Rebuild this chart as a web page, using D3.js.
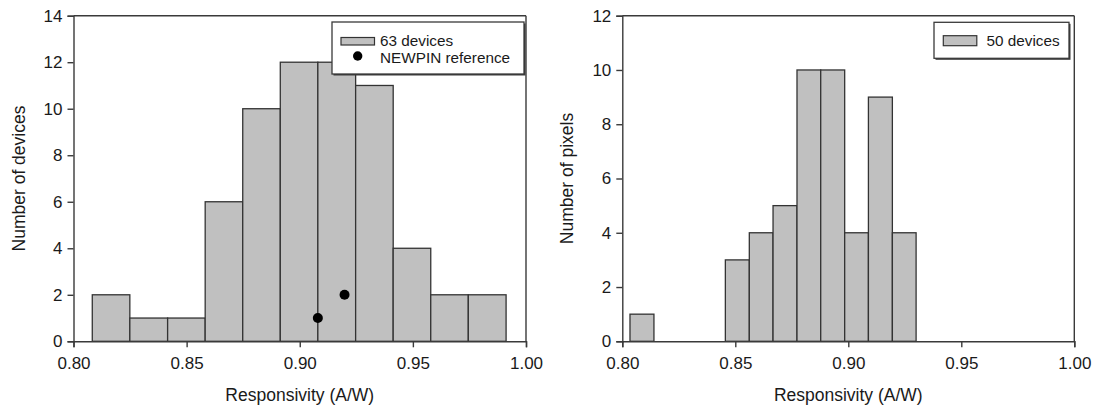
<!DOCTYPE html>
<html>
<head>
<meta charset="utf-8">
<script src="https://cdn.jsdelivr.net/npm/d3@7"></script>
<style>
  html, body { margin: 0; padding: 0; background: #fff; }
  svg { display: block; font-family: "Liberation Sans", Arial, sans-serif; }
</style>
</head>
<body>
<svg id="chart" width="1099" height="409"></svg>
<script>
// Left panel: responsivity histogram of 63 devices
const leftEdges  = [0.8083, 0.8249, 0.8416, 0.8582, 0.8748, 0.8914, 0.9080, 0.9247, 0.9413, 0.9579, 0.9745, 0.9912];
const leftCounts = [2, 1, 1, 6, 10, 12, 12, 11, 4, 2, 2];
const refX = [0.908, 0.9198];
const refY = [1, 2];

// Right panel: responsivity histogram of 50 devices (pixels)
const rightEdges  = [0.8034, 0.8140, 0.8245, 0.8351, 0.8456, 0.8562, 0.8667, 0.8773, 0.8878, 0.8984, 0.9089, 0.9195, 0.9300];
const rightCounts = [1, 0, 0, 0, 3, 4, 5, 10, 10, 4, 9, 4];

const xTicks = [0.80, 0.85, 0.90, 0.95, 1.00];
const leftYTicks = [0, 2, 4, 6, 8, 10, 12, 14];
const rightYTicks = [0, 2, 4, 6, 8, 10, 12];

const xLabel = "Responsivity (A/W)";
const leftYLabel = "Number of devices";
const rightYLabel = "Number of pixels";
const leftLegend = ["63 devices", "NEWPIN reference"];
const rightLegend = ["50 devices"];

const svg = d3.select("#chart");
const axisColor = "#3a3a3a";
const barFill = "#c0c0c0";
const textColor = "#1a1a1a";

function legendBox(g, x, y, w, h) {
  g.append("rect").attr("x", x + 1.5).attr("y", y + 1.5).attr("width", w).attr("height", h)
    .attr("fill", "#3a3a3a");
  g.append("rect").attr("x", x).attr("y", y).attr("width", w).attr("height", h)
    .attr("fill", "#fff").attr("stroke", axisColor).attr("stroke-width", 1.3);
}

function panel(opts) {
  const { left, right, top, bottom, yMax, yTicks, edges, counts, yLabel, yLabelX } = opts;
  const g = svg.append("g");
  const x = d3.scaleLinear().domain([0.80, 1.00]).range([left, right]);
  const y = d3.scaleLinear().domain([0, yMax]).range([bottom, top]);

  // bars
  const bins = counts.map((c, i) => ({ x0: edges[i], x1: edges[i + 1], n: c })).filter(d => d.n > 0);
  g.selectAll("rect.bar").data(bins).join("rect")
    .attr("class", "bar")
    .attr("x", d => x(d.x0)).attr("width", d => x(d.x1) - x(d.x0))
    .attr("y", d => y(d.n)).attr("height", d => y(0) - y(d.n))
    .attr("fill", barFill).attr("stroke", "#333").attr("stroke-width", 1.3);

  // frame: top and right lines
  g.append("line").attr("x1", left).attr("x2", right).attr("y1", top).attr("y2", top)
    .attr("stroke", axisColor).attr("stroke-width", 1.4);
  g.append("line").attr("x1", right).attr("x2", right).attr("y1", top).attr("y2", bottom)
    .attr("stroke", axisColor).attr("stroke-width", 1.4);

  // bottom axis
  const xa = g.append("g").attr("transform", `translate(0,${bottom})`)
    .call(d3.axisBottom(x).tickValues(xTicks).tickFormat(d3.format(".2f")).tickSizeOuter(0).tickSize(6).tickPadding(10));
  // left axis
  const ya = g.append("g").attr("transform", `translate(${left},0)`)
    .call(d3.axisLeft(y).tickValues(yTicks).tickSizeOuter(0).tickSize(6).tickPadding(5));
  [xa, ya].forEach(a => {
    a.select(".domain").attr("stroke", axisColor).attr("stroke-width", 1.4);
    a.selectAll(".tick line").attr("stroke", axisColor).attr("stroke-width", 1.4);
    a.selectAll(".tick text").attr("fill", textColor).attr("font-size", "17px")
      .attr("font-family", "Liberation Sans, Arial, sans-serif");
  });

  // axis titles
  g.append("text").attr("x", (left + right) / 2).attr("y", 401)
    .attr("text-anchor", "middle").attr("font-size", "17.5px").attr("fill", textColor)
    .text(xLabel);
  g.append("text")
    .attr("transform", `translate(${yLabelX},${(top + bottom) / 2}) rotate(-90)`)
    .attr("text-anchor", "middle").attr("font-size", "17.5px").attr("fill", textColor)
    .text(yLabel);

  return { g, x, y };
}

// ---- left panel ----
const L = panel({ left: 73.5, right: 526, top: 15.7, bottom: 341.3, yMax: 14, yTicks: leftYTicks,
  edges: leftEdges, counts: leftCounts, yLabel: leftYLabel, yLabelX: 25 });

L.g.selectAll("circle.ref").data(refX.map((v, i) => ({ x: v, y: refY[i] }))).join("circle")
  .attr("class", "ref").attr("cx", d => L.x(d.x)).attr("cy", d => L.y(d.y)).attr("r", 5)
  .attr("fill", "#000");

// legend (left)
const lg = L.g.append("g");
legendBox(lg, 332, 22, 192, 52);
lg.append("rect").attr("x", 341).attr("y", 37.5).attr("width", 33.5).attr("height", 7.5)
  .attr("fill", barFill).attr("stroke", "#333").attr("stroke-width", 1.2);
lg.append("circle").attr("cx", 357.7).attr("cy", 56).attr("r", 4.7).attr("fill", "#000");
lg.selectAll("text").data(leftLegend).join("text")
  .attr("x", 380).attr("y", (d, i) => 45.5 + i * 17.5)
  .attr("font-size", "15.3px").attr("fill", textColor).text(d => d);

// ---- right panel ----
const R = panel({ left: 622.3, right: 1074.3, top: 15.7, bottom: 341.3, yMax: 12, yTicks: rightYTicks,
  edges: rightEdges, counts: rightCounts, yLabel: rightYLabel, yLabelX: 573 });

const rg = R.g.append("g");
legendBox(rg, 934, 22.3, 135, 36);
rg.append("rect").attr("x", 943.3).attr("y", 35.7).attr("width", 33.5).attr("height", 10)
  .attr("fill", barFill).attr("stroke", "#333").attr("stroke-width", 1.2);
rg.selectAll("text").data(rightLegend).join("text")
  .attr("x", 986.5).attr("y", 46)
  .attr("font-size", "15.3px").attr("fill", textColor).text(d => d);
</script>
</body>
</html>
